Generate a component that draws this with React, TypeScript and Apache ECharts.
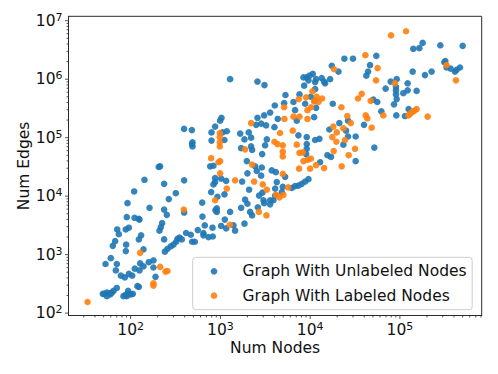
import React, { useEffect, useRef } from "react";
import * as echarts from "echarts";

// [log10(nodes), log10(edges)]
const unlabeledLog: number[][] = [
[2.154,4.28],[2.373,4.21],[2.596,4.27],[2.039,4.08],[2.503,4.05],[2.425,3.95],[1.965,3.88],[2.21,3.80],[2.373,3.77],[2.403,3.68],
[1.957,3.64],[2.043,3.63],[2.091,3.61],[2.098,3.60],[2.351,3.54],[2.336,3.47],[2.321,3.41],[1.85,3.43],[1.868,3.35],[1.946,3.43],
[1.98,3.46],[2.117,3.33],[2.091,3.26],[1.827,3.23],[1.801,3.15],[1.95,3.17],[2.373,3.26],[1.946,3.06],[2.143,3.09],[2.618,3.37],
[2.67,3.34],[2.748,3.42],[2.544,3.29],[2.522,3.27],[2.57,3.26],[2.507,3.22],[2.477,3.17],[2.447,3.14],[2.41,3.10],[2.381,3.05],
[2.685,3.22],[2.715,3.22],[1.779,2.94],[1.72,2.84],[1.846,2.84],[1.835,2.73],[1.891,2.64],[1.935,2.61],[1.98,2.67],[2.017,2.64],
[2.046,2.76],[2.098,2.73],[2.106,2.85],[2.143,2.80],[2.202,2.87],[2.254,2.90],[2.254,2.78],[2.277,2.62],[2.076,2.46],[2.091,2.45],
[1.846,2.43],[1.809,2.38],[1.79,2.35],[1.764,2.34],[1.735,2.35],[1.705,2.33],[1.69,2.33],[1.735,2.29],[1.772,2.32],[1.92,2.29],
[1.943,2.31],[1.972,2.38],[1.972,2.33],[2.002,2.32],[2.024,2.33],[1.957,2.29],[2.596,3.72],
[2.595,5.15],[2.328,4.51],[2.313,4.50],[2.684,4.89],
[3.012,5.34],[2.997,5.29],[2.941,5.19],[2.901,5.09],[3.023,5.09],[3.071,5.11],[2.901,4.95],[3.045,4.96],[2.682,5.13],[2.689,4.92],
[2.689,4.85],[3.22,5.07],[3.316,5.09],[3.342,5.00],[3.268,4.97],[3.231,4.82],[3.342,4.85],[3.353,4.79],[3.465,4.72],[3.413,5.34],
[3.487,5.38],[3.554,5.43],[3.398,5.22],[3.454,5.24],[3.509,5.21],[3.639,5.32],[3.602,5.18],[3.851,5.29],[3.869,5.04],[3.962,5.01],
[3.517,4.97],[3.498,4.87],[3.962,4.89],[3.962,4.81],[4.055,4.96],[4.103,4.98],[3.955,4.72],[3.294,4.60],[3.387,4.51],[3.405,4.43],
[3.461,4.49],[3.454,4.35],[3.572,4.44],[3.617,4.41],[3.301,4.39],[3.721,4.33],[2.886,4.51],[2.923,4.52],[2.941,4.31],[3.008,4.30],
[3.064,4.26],[2.941,4.24],[2.923,4.20],[2.897,4.07],[3.045,4.03],[2.967,3.99],[2.797,3.89],[2.96,3.79],[2.96,3.73],[2.945,3.76],
[3.108,3.73],[2.8,3.65],[3.049,3.60],[2.826,3.50],[2.912,3.46],[3.008,3.49],[3.146,3.50],[3.064,3.45],[3.164,3.41],[2.811,3.37],
[2.811,3.33],[2.867,3.30],[2.915,3.31],[3.268,3.53],[3.242,4.25],[3.32,4.11],[3.468,4.06],[3.431,4.01],[3.48,3.93],[3.275,3.94],
[3.301,3.87],[3.231,3.80],[3.331,3.73],[3.353,3.67],[3.417,3.81],[3.554,3.93],[3.554,3.86],[3.487,3.88],[3.628,4.24],[3.61,4.13],
[3.695,4.16],[3.981,4.29],[3.944,4.25],[3.906,4.21],[3.869,4.18],[3.832,4.17],[3.795,4.14],[3.684,4.07],[3.61,4.01],[3.591,3.93],
[3.108,6.00],[3.413,5.96],[3.491,5.90],[3.725,5.73],[3.606,5.55],[3.71,5.59],[3.814,5.61],[3.881,5.74],[3.944,5.58],[3.832,5.47],
[4.044,5.35],[4.241,6.23],[4.315,6.13],[3.925,6.03],[3.962,6.03],[3.992,6.06],[4.029,6.09],[3.981,5.98],[4.055,5.95],[4.066,6.00],
[4.129,6.02],[4.166,5.93],[4.222,6.00],[3.933,5.89],[4.055,5.83],[4.252,5.58],[4.066,5.51],[4.007,5.70],[4.055,5.63],
[5.253,6.62],[5.149,6.52],[5.216,6.53],[5.45,6.58],[5.699,6.57],[4.737,6.40],[4.381,6.35],[4.477,6.35],[4.155,5.96],[4.667,6.24],
[4.645,6.13],[4.626,6.06],[5.142,6.13],[5.506,6.31],[5.495,6.29],[5.52,6.20],[5.565,6.18],[5.613,6.13],[5.669,6.20],[5.632,6.16],
[5.353,6.13],[5.279,6.07],[4.964,6.00],[5.086,5.93],[4.897,5.96],[4.841,5.84],[5.038,5.76],[5.086,5.81],[5.186,5.80],[4.956,5.87],
[4.956,5.81],[4.956,5.74],[4.964,5.66],[4.934,5.57],[4.704,5.65],[4.748,5.61],[5.097,5.49],
[4.214,5.14],[4.325,5.25],[4.422,5.29],[4.4,5.12],[4.422,5.02],[4.507,5.02],[4.6,5.22],[4.793,5.45],[4.96,5.38],[5.057,5.37],
[4.37,4.88],[4.715,4.83],[4.192,4.70],[4.232,4.67],[4.507,4.60],[4.11,4.58],
];

const labeledLog: number[][] = [
[1.52,2.19],[2.106,3.03],[2.329,2.79],[2.388,2.71],[2.41,2.72],[2.254,2.51],[2.254,2.47],[2.592,3.77],
[3.342,5.25],[3.713,5.32],[3.814,5.36],[3.881,5.36],[3.97,5.32],[3.665,5.08],[3.806,5.12],[2.993,5.08],[2.993,5.01],[2.993,4.92],[2.993,4.85],[3.275,4.80],
[3.602,4.93],[3.636,4.89],[3.695,4.87],[3.695,4.76],[3.695,4.68],[3.851,4.88],[3.881,4.74],[3.918,4.75],[2.897,4.65],[2.979,4.58],
[2.997,4.60],[3.353,4.54],[3.925,4.60],[3.97,4.62],[4.007,4.64],[3.877,4.47],[3.999,4.47],[4.066,4.53],[3.695,4.38],[2.997,4.39],
[3.164,4.27],[3.376,4.25],[3.472,4.20],[3.517,4.11],[3.071,4.13],[2.941,3.93],[3.754,4.15],[3.621,4.02],[3.658,3.98],[3.702,4.02],
[3.428,3.73],[3.513,3.67],[3.105,3.51],
[4.267,6.17],[4.025,5.79],[3.955,5.69],[3.873,5.66],[4.073,5.70],[4.133,5.67],[4.044,5.62],[4.092,5.61],[3.71,5.52],[3.97,5.47],[4.01,5.52],
[5.068,6.82],[4.901,6.75],[4.615,6.41],[4.752,6.19],[4.734,5.98],[4.945,5.93],[5.52,6.24],[5.624,5.98],[4.574,5.75],[4.533,5.67],
[4.674,5.63],[4.348,5.52],[5.186,5.49],[5.16,5.46],[5.138,5.44],[5.116,5.41],[5.094,5.38],
[4.414,5.37],[4.619,5.38],[4.637,5.33],[4.815,5.38],[5.309,5.36],[4.452,5.25],[4.685,5.17],[4.258,5.19],[4.37,5.16],[4.296,5.09],
[4.247,5.01],[4.388,4.96],[4.292,4.93],[4.5,4.81],[4.262,4.77],[4.429,4.70],[4.155,4.48],[4.351,4.51],
];

const seriesNames = ["Graph With Unlabeled Nodes", "Graph With Labeled Nodes"];
const xDecades = [1, 2, 3, 4, 5];
const yDecades = [2, 3, 4, 5, 6, 7];
const minorSteps = [2, 3, 4, 5, 6, 7, 8, 9];

const X_MIN = 20.3;
const X_MAX = 815000;
const Y_MIN = 91;
const Y_MAX = 11900000;
const FONT = "DejaVu Sans";
const INK = "#2b2b2b";
const TEXT_SIZE = 15.5;

const toPoints = (list: number[][]) => list.map(([x, y]) => [Math.pow(10, x), Math.pow(10, y)]);

const makeTicks = (decades: number[], lo: number, hi: number) => {
  const out: number[][] = [];
  for (const d of decades) {
    const base = Math.pow(10, d);
    if (base >= lo && base <= hi) out.push([base, 3.5]);
    for (const m of minorSteps) {
      const v = base * m;
      if (v >= lo && v <= hi) out.push([v, 2]);
    }
  }
  return out;
};

const superscriptLabel = (v: number) => {
  const e = Math.log10(v);
  if (Math.abs(e - Math.round(e)) > 1e-6) return "";
  return `{a|10}{b|${Math.round(e)}}`;
};

const labelRich = {
  a: { fontSize: TEXT_SIZE, fontFamily: FONT, color: "#111", lineHeight: 15 },
  b: { fontSize: 11, fontFamily: FONT, color: "#111", lineHeight: 11, padding: [0, 0, 7, 0] },
};

export default function App() {
  const ref = useRef<HTMLDivElement>(null);
  useEffect(() => {
    if (!ref.current) return;
    const chart = echarts.init(ref.current, undefined, { renderer: "svg" });
    const xTicks = makeTicks(xDecades, X_MIN, X_MAX).map(([v, len]) => [v, Y_MIN, len]);
    const yTicks = makeTicks(yDecades, Y_MIN, Y_MAX).map(([v, len]) => [X_MIN, v, len]);
    const scatter = (name: string, data: number[][], color: string, z: number) => ({
      name,
      type: "scatter",
      data,
      symbol: "circle",
      symbolSize: 6.6,
      z,
      itemStyle: { color, opacity: 0.9 },
      silent: true,
    });
    chart.setOption({
      animation: false,
      backgroundColor: "#fff",
      grid: {
        left: 68.5,
        right: 16.3,
        top: 16.3,
        bottom: 58.5,
        show: true,
        borderColor: INK,
        borderWidth: 1,
        containLabel: false,
      },
      xAxis: {
        type: "log",
        logBase: 10,
        min: X_MIN,
        max: X_MAX,
        name: "Num Nodes",
        nameLocation: "middle",
        nameGap: 24,
        nameMoveOverlap: false,
        nameTextStyle: { fontFamily: FONT, fontSize: TEXT_SIZE, color: "#111" },
        axisLine: { show: true, lineStyle: { color: INK, width: 1 } },
        axisTick: { show: false },
        minorTick: { show: false },
        splitLine: { show: false },
        axisLabel: { margin: 7, formatter: superscriptLabel, rich: labelRich, showMinLabel: false, showMaxLabel: false },
      },
      yAxis: {
        type: "log",
        logBase: 10,
        min: Y_MIN,
        max: Y_MAX,
        name: "Num Edges",
        nameLocation: "middle",
        nameGap: 37,
        nameMoveOverlap: false,
        nameTextStyle: { fontFamily: FONT, fontSize: TEXT_SIZE, color: "#111" },
        axisLine: { show: true, lineStyle: { color: INK, width: 1 } },
        axisTick: { show: false },
        minorTick: { show: false },
        splitLine: { show: false },
        axisLabel: { margin: 6, formatter: superscriptLabel, rich: labelRich, showMinLabel: false, showMaxLabel: false },
      },
      legend: {
        data: seriesNames,
        orient: "vertical",
        left: 192.7,
        top: 257.3,
        padding: [6, 5.6, 6, 18],
        itemWidth: 47,
        itemHeight: 6.6,
        itemGap: 8.4,
        icon: "circle",
        backgroundColor: "#fff",
        borderColor: "#ccc",
        borderWidth: 1,
        borderRadius: 3,
        textStyle: { fontFamily: FONT, fontSize: TEXT_SIZE, color: "#111" },
      },
      series: [
        scatter(seriesNames[0], toPoints(unlabeledLog), "#1f77b4", 3),
        scatter(seriesNames[1], toPoints(labeledLog), "#ff7f0e", 4),
        {
          type: "custom",
          name: "xTicks",
          silent: true,
          clip: false,
          data: xTicks,
          z: 5,
          renderItem: (_: any, api: any) => {
            const p = api.coord([api.value(0), api.value(1)]);
            return {
              type: "line",
              shape: { x1: p[0], y1: p[1], x2: p[0], y2: p[1] + api.value(2) },
              style: { stroke: INK, lineWidth: 0.8 },
            };
          },
        },
        {
          type: "custom",
          name: "yTicks",
          silent: true,
          clip: false,
          data: yTicks,
          z: 5,
          renderItem: (_: any, api: any) => {
            const p = api.coord([api.value(0), api.value(1)]);
            return {
              type: "line",
              shape: { x1: p[0], y1: p[1], x2: p[0] - api.value(2), y2: p[1] },
              style: { stroke: INK, lineWidth: 0.8 },
            };
          },
        },
      ],
    });
    return () => chart.dispose();
  }, []);
  return <div ref={ref} style={{ position: "absolute", left: 0, top: 0, width: 498, height: 374 }} />;
}
